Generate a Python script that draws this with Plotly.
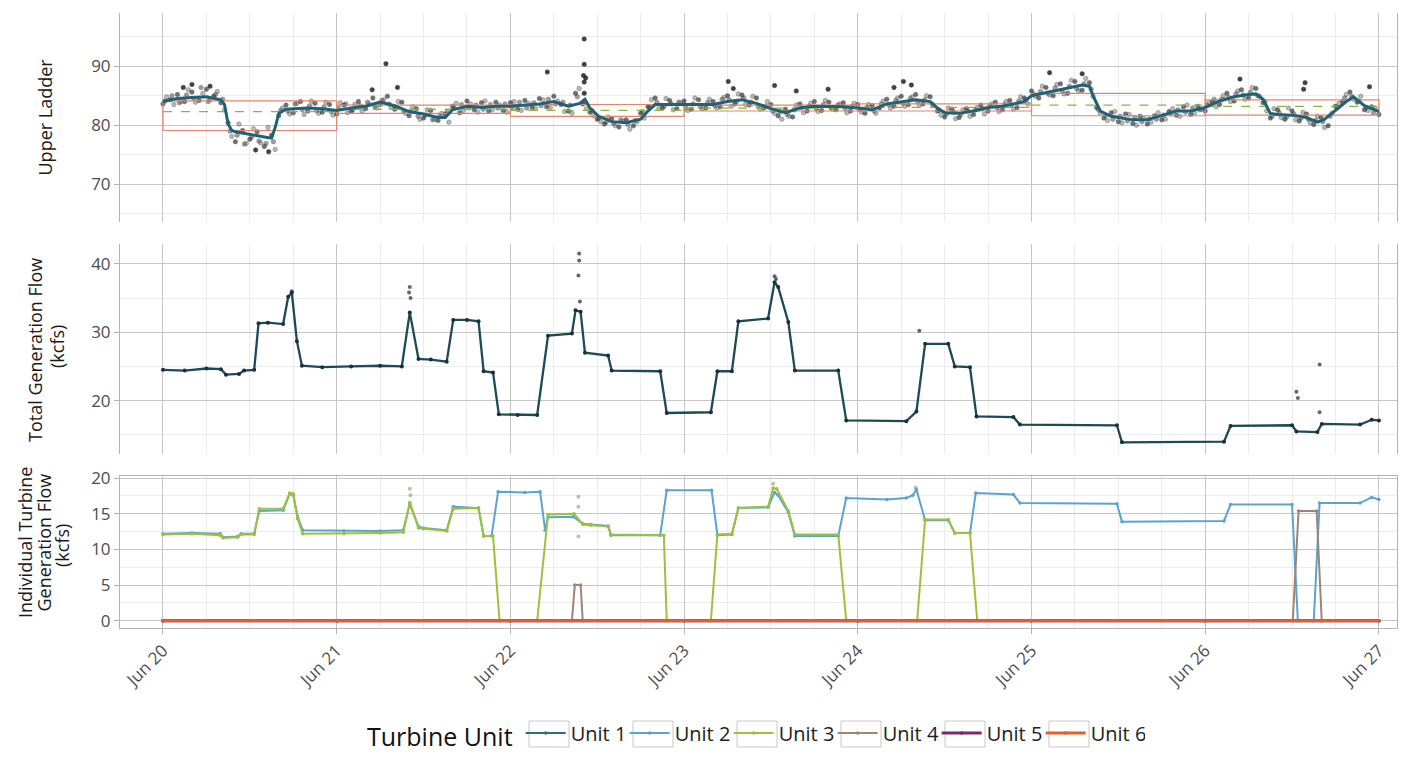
import plotly.graph_objects as go
import pandas as pd

BASE = pd.Timestamp("2023-06-20")

# ---------------- data (hours since Jun 20 00:00) ----------------
upper_line_h = [0, 2, 4, 6, 8, 8.5, 9, 9.5, 10, 12, 14, 15, 15.5, 16, 17, 18, 20, 22, 24, 26, 28, 30, 32, 34, 36, 38, 39, 40,
                42, 44, 46, 48, 50, 52, 54, 56, 57.6, 58.3, 59, 60.2, 62, 64, 66, 67, 68, 70, 72, 74, 76, 78, 80, 82, 84,
                86, 88, 90, 92, 94, 96, 98, 100, 102, 104, 106, 107, 108, 110, 112, 114, 116, 118, 119, 120, 122, 124,
                126, 127, 128, 128.5, 129.5, 131, 132, 134, 136, 138, 140, 142, 144, 146, 148, 150, 151, 152, 153, 154,
                156, 158, 159.5, 160.5, 162, 163.5, 164.5, 166, 168]
upper_line_v = [84.0, 84.5, 84.7, 84.8, 84.3, 83.5, 80.2, 79.1, 78.9, 78.4, 78.0, 77.8, 79.6, 82.0, 82.7, 82.8, 82.9, 82.8,
                82.5, 82.9, 83.2, 83.9, 83.3, 82.3, 81.9, 81.3, 81.3, 82.6, 83.2, 83.0, 83.2, 83.2, 83.4, 83.6, 84.0, 83.2,
                83.7, 84.4, 82.9, 81.5, 80.6, 80.4, 81.0, 82.4, 83.5, 83.5, 83.4, 83.4, 83.5, 84.0, 84.3, 83.7, 82.8, 82.1,
                82.9, 83.2, 83.2, 83.1, 82.9, 82.6, 83.6, 84.0, 84.3, 84.0, 82.9, 82.1, 82.0, 82.4, 83.0, 83.2, 83.7, 84.0,
                85.0, 85.5, 86.0, 86.5, 86.8, 86.6, 85.0, 82.4, 81.5, 81.3, 80.9, 80.9, 81.6, 82.4, 82.4, 83.0, 84.1, 84.8,
                85.2, 85.3, 84.4, 82.0, 81.8, 81.7, 81.3, 80.5, 81.0, 82.5, 84.0, 84.8, 83.3, 82.3]

# observed points: on the hour (a), at half past (b), at quarter past (c)
upper_obs_a = [83.6, 84.3, 85.2, 84.0, 85.6, 84.2, 86.1, 84.9, 83.8, 80.4, 77.2, 79.1, 77.6, 78.9, 76.4, 78.3, 81.6, 83.4,
               82.1, 84.0, 82.4, 83.7, 82.2, 83.5, 81.9, 83.4, 82.3, 84.0, 82.8, 84.6, 83.5, 84.9, 82.7, 83.9, 81.6, 82.8,
               81.2, 82.5, 80.8, 81.9, 83.2, 82.1, 84.1, 82.6, 83.8, 82.4, 83.9, 82.5, 83.8, 82.7, 84.2, 83.0, 84.5, 83.1,
               84.9, 83.5, 82.4, 85.4, 83.6, 82.2, 81.0, 80.2, 81.1, 79.7, 80.9, 79.9, 82.0, 83.1, 84.6, 82.9, 84.2, 82.8,
               84.1, 82.7, 84.3, 82.9, 84.0, 83.1, 85.0, 83.6, 85.1, 83.4, 84.6, 82.9, 83.5, 81.6, 82.7, 81.4, 83.6, 82.4,
               84.0, 82.5, 83.9, 82.6, 83.8, 82.4, 83.5, 82.0, 83.3, 82.9, 84.4, 83.2, 84.9, 83.5, 85.2, 83.6, 84.8, 82.4,
               81.4, 82.7, 81.3, 82.8, 81.8, 83.4, 82.4, 83.9, 82.6, 84.2, 83.0, 84.6, 85.8, 84.6, 86.4, 85.0, 87.0, 85.4,
               87.4, 85.9, 87.2, 83.0, 81.2, 82.1, 80.6, 81.9, 80.3, 81.5, 80.2, 81.6, 80.9, 82.3, 81.7, 83.1, 81.8, 83.2,
               82.4, 84.0, 83.5, 85.4, 84.1, 86.0, 84.6, 86.2, 83.8, 81.2, 82.6, 81.0, 82.4, 80.7, 81.9, 80.1, 81.3, 79.9,
               83.2, 84.0, 85.6, 83.9, 82.6, 83.1, 81.8]
upper_obs_b = [84.8, 83.5, 84.0, 86.0, 83.9, 85.4, 84.3, 85.7, 82.6, 78.1, 80.2, 76.9, 79.4, 77.0, 79.6, 75.9, 82.9, 81.9,
               83.7, 81.8, 84.1, 82.0, 83.9, 81.7, 83.8, 82.1, 83.5, 82.4, 83.6, 82.9, 84.3, 83.0, 84.0, 82.0, 83.1, 81.0,
               82.6, 81.0, 82.0, 80.5, 83.7, 82.5, 83.6, 82.2, 84.1, 82.6, 83.4, 82.2, 84.0, 82.5, 83.7, 82.8, 84.3, 83.0,
               84.1, 82.3, 82.0, 86.2, 82.8, 81.6, 80.6, 81.4, 79.9, 80.7, 79.3, 80.6, 81.2, 84.3, 82.8, 84.5, 82.6, 83.8,
               82.5, 84.6, 82.8, 84.4, 82.9, 84.7, 83.2, 85.3, 83.5, 84.9, 82.7, 84.0, 82.0, 81.0, 81.5, 83.4, 82.1, 83.7,
               82.3, 84.2, 82.7, 83.6, 82.1, 83.7, 82.2, 83.5, 82.0, 84.1, 82.9, 84.6, 83.2, 84.8, 83.4, 85.0, 83.3, 81.7,
               82.9, 81.1, 82.6, 81.5, 83.0, 81.9, 83.6, 82.3, 84.0, 82.7, 84.8, 83.6, 84.9, 86.6, 85.1, 86.9, 85.3, 87.6,
               85.8, 87.9, 84.9, 82.0, 80.8, 82.3, 80.4, 81.8, 80.0, 81.2, 80.5, 82.1, 81.0, 82.8, 81.5, 83.4, 82.0, 82.7,
               83.8, 83.1, 85.0, 84.0, 85.8, 84.4, 86.4, 84.9, 82.4, 82.8, 81.3, 82.9, 80.9, 82.2, 80.4, 81.5, 79.6, 82.0,
               83.7, 85.2, 84.4, 84.9, 82.5, 82.9]
upper_obs_c = [84.1, 85.0, 83.8, 85.1, 84.5, 86.4, 84.0, 85.2, 84.4, 79.0, 78.3, 76.8, 78.0, 77.3, 76.9, 77.2, 82.5, 82.4,
               83.6, 82.6, 83.3, 82.5, 83.1, 82.3, 82.9, 83.6, 82.6, 83.3, 83.9, 83.2, 84.2, 83.6, 82.9, 82.4, 82.3, 81.5,
               81.7, 80.9, 81.6, 82.2, 82.9, 83.5, 82.9, 83.4, 82.7, 83.5, 82.9, 83.6, 82.9, 83.9, 82.9, 83.8, 83.3, 84.4,
               83.6, 83.9, 83.4, 84.8, 83.9, 82.5, 81.2, 80.5, 80.3, 80.9, 80.1, 80.8, 82.3, 83.0, 83.9, 83.2, 83.6, 83.9,
               83.0, 83.6, 83.1, 83.8, 83.3, 84.4, 84.3, 84.0, 84.6, 83.9, 83.3, 83.2, 82.4, 82.3, 81.8, 82.6, 83.0, 83.2,
               82.8, 83.5, 83.0, 83.4, 82.8, 83.2, 82.7, 83.0, 82.4, 83.6, 83.5, 84.2, 83.7, 84.5, 84.0, 84.3, 83.6, 82.5,
               81.9, 82.2, 81.8, 82.4, 82.6, 82.8, 83.3, 83.0, 83.5, 83.4, 84.1, 84.3, 85.3, 85.7, 85.4, 86.3, 85.7, 86.6,
               86.2, 87.0, 86.1, 82.6, 81.7, 81.0, 81.5, 80.7, 81.3, 80.6, 81.1, 81.0, 81.7, 81.9, 82.6, 82.2, 82.9, 82.6,
               83.4, 84.4, 84.4, 84.7, 85.3, 85.1, 85.6, 85.0, 84.0, 81.5, 82.1, 81.4, 81.9, 81.2, 81.0, 80.8, 80.6, 81.5,
               83.0, 84.6, 84.9, 84.1, 83.0, 82.1]
upper_out_h = [30.8, 28.9, 32.4, 53.1, 58.2, 58.2, 58.1, 58.4, 58.2, 58.2, 78.1, 78.8, 84.5, 87.5, 91.9, 101.0, 102.3,
               103.4, 122.5, 127.0, 148.8, 157.8, 157.6, 166.7, 4.0, 6.5, 2.8, 12.8, 14.6]
upper_out_v = [90.4, 86.0, 86.4, 89.0, 94.6, 90.3, 88.4, 88.0, 87.3, 85.4, 87.4, 86.2, 86.7, 85.8, 86.1, 86.4, 87.4,
               86.8, 88.9, 88.7, 87.8, 87.2, 86.1, 86.5, 86.9, 86.6, 86.4, 75.8, 75.5]

band_days = ["2023-06-20", "2023-06-21", "2023-06-22", "2023-06-23", "2023-06-24", "2023-06-25", "2023-06-26"]
band_upper = [84.1, 83.4, 83.5, 83.4, 83.6, 85.4, 84.3]
band_lower = [79.1, 82.0, 81.5, 82.4, 82.4, 81.6, 81.7]
band_target = [82.3, 82.7, 82.5, 82.9, 83.0, 83.4, 83.2]

total_h = [0, 3, 6, 8, 8.7, 10.5, 11.2, 12.6, 13.2, 14.5, 16.6, 17.3, 17.8, 18.5, 19.2, 22, 26, 30, 33.0, 34.1, 35.3,
           37, 39.2, 40.1, 42, 43.6, 44.3, 45.6, 46.4, 49, 51.7, 53.2, 56.5, 57.0, 57.7, 58.3, 61.5, 62.0, 68.7, 69.6,
           75.7, 76.6, 78.6, 79.5, 83.6, 84.5, 85.0, 86.4, 87.3, 93.3, 94.4, 102.7, 104.1, 105.3, 108.5, 109.4, 111.5,
           112.4, 117.5, 118.4, 131.8, 132.5, 146.6, 147.5, 156.0, 156.6, 159.5, 160.1, 165.4, 167.0, 168.0]
total_v = [24.5, 24.4, 24.7, 24.6, 23.8, 23.9, 24.4, 24.5, 31.3, 31.4, 31.2, 35.2, 35.8, 28.7, 25.1, 24.9, 25.0, 25.1,
           25.0, 32.9, 26.1, 26.0, 25.7, 31.8, 31.8, 31.6, 24.3, 24.1, 18.0, 17.9, 17.9, 29.5, 29.8, 33.2, 33.0, 27.0,
           26.6, 24.4, 24.3, 18.2, 18.3, 24.3, 24.3, 31.6, 32.0, 37.3, 36.6, 31.5, 24.4, 24.4, 17.1, 17.0, 18.4, 28.3,
           28.3, 25.0, 24.9, 17.7, 17.6, 16.5, 16.4, 13.9, 14.0, 16.3, 16.4, 15.5, 15.4, 16.6, 16.5, 17.2, 17.1]
total_out_h = [34.1, 34.0, 34.2, 57.5, 57.5, 57.4, 57.6, 17.8, 84.5, 84.7, 104.5, 156.6, 156.8, 159.8, 159.8]
total_out_v = [36.6, 35.8, 35.0, 41.5, 40.5, 38.3, 34.5, 36.0, 38.2, 37.8, 30.2, 21.3, 20.4, 25.3, 18.3]

unit_names = ["Unit 1", "Unit 2", "Unit 3", "Unit 4", "Unit 5", "Unit 6"]
unit1_h = [0, 24, 48, 72, 96, 120, 144, 168]
unit1_v = [0, 0, 0, 0, 0, 0, 0, 0]
unit2_h = [0, 4, 7.9, 8.3, 10.3, 10.8, 12.6, 13.3, 16.6, 17.5, 18.0, 18.6, 19.3, 25, 30, 33.2, 34.1, 35.3, 36, 39.2,
           40.1, 43.6, 44.3, 45.4, 46.3, 50, 52.1, 52.8, 53.2, 56.7, 58.0, 59.1, 61.5, 61.9, 68.7, 69.6, 75.8, 76.6,
           78.6, 79.5, 83.6, 84.5, 85.0, 86.4, 87.3, 93.3, 94.4, 100, 102.7, 103.6, 104.1, 105.3, 108.5, 109.4, 111.5,
           112.3, 117.5, 118.4, 131.8, 132.5, 146.6, 147.5, 156.0, 156.8, 159.0, 159.8, 165.4, 167.0, 168]
unit2_v = [12.2, 12.3, 12.2, 11.7, 11.8, 12.2, 12.2, 15.4, 15.5, 17.8, 17.6, 14.6, 12.7, 12.6, 12.6, 12.7, 16.4, 13.2,
           13.0, 12.7, 16.0, 15.8, 11.9, 11.9, 18.1, 18.0, 18.1, 12.7, 14.5, 14.6, 13.6, 13.5, 13.3, 12.0, 12.0, 18.3,
           18.3, 12.0, 12.1, 15.8, 15.9, 18.0, 17.6, 15.2, 11.9, 11.9, 17.2, 17.0, 17.2, 17.6, 18.4, 14.1, 14.1, 12.3,
           12.3, 17.9, 17.7, 16.5, 16.4, 13.9, 14.0, 16.3, 16.3, 0, 0, 16.5, 16.5, 17.3, 17.0]
unit3_h = [0, 4, 7.9, 8.3, 10.3, 10.8, 12.6, 13.3, 16.6, 17.5, 18.0, 18.6, 19.3, 25, 30, 33.2, 34.1, 35.3, 36, 39.2,
           40.1, 43.6, 44.3, 45.6, 46.5, 51.7, 53.2, 56.8, 58.0, 59.1, 61.5, 61.9, 69.2, 69.6, 75.7, 76.6, 78.6, 79.5,
           83.6, 84.3, 84.8, 86.4, 87.3, 93.3, 94.4, 104.2, 105.3, 108.5, 109.4, 111.5, 112.5, 168]
unit3_v = [12.1, 12.2, 12.0, 11.6, 11.7, 12.1, 12.1, 15.7, 15.7, 17.9, 17.8, 14.3, 12.2, 12.2, 12.3, 12.4, 16.6, 13.0,
           12.9, 12.6, 15.7, 15.8, 11.9, 11.9, 0, 0, 14.9, 15.0, 13.5, 13.4, 13.2, 12.1, 12.0, 0, 0, 12.1, 12.2, 15.8,
           16.0, 18.6, 18.5, 15.4, 12.1, 12.1, 0, 0, 14.2, 14.2, 12.3, 12.3, 0, 0]
unit4_h = [0, 56.5, 56.9, 57.7, 58.0, 156.1, 156.9, 159.4, 160.1, 168]
unit4_v = [0, 0, 5.0, 5.0, 0, 0, 15.4, 15.4, 0, 0]
unit5_h = [0, 24, 48, 72, 96, 120, 144, 168]
unit5_v = [0, 0, 0, 0, 0, 0, 0, 0]
unit6_h = [0, 24, 48, 72, 96, 120, 144, 168]
unit6_v = [0, 0, 0, 0, 0, 0, 0, 0]
unit_pts_h = [34.1, 34.2, 57.4, 57.4, 57.4, 84.3, 104.0]
unit_pts_v = [18.5, 17.6, 17.4, 16.0, 11.8, 19.2, 18.7]

# ---------------- styling ----------------
UNIT_COLORS = ["#2f6f75", "#5ba3d0", "#9dc13c", "#9e8574", "#7a2b6d", "#dd6230"]
TOP_LINE = "#1d6275"
MID_LINE = "#1c4a57"
FONT = "Open Sans"
GRID = "#c6c6c6"
MINOR = "#ececec"
BORDER = "#b3b3b3"

# page is offset by the browser's 8px body margin: work in reference pixels minus 8
OFF = 8
W, H = 1406 - OFF, 757 - OFF


def px_x(x):
    return (x - OFF) / W


def px_y(y):
    return 1 - (y - OFF) / H


def dt(hours):
    return [BASE + pd.Timedelta(hours=float(h)) for h in hours]


fig = go.Figure()

# ---- top panel ----
obs_a_h = list(range(len(upper_obs_a)))
obs_b_h = [h + 0.5 for h in range(len(upper_obs_b))]
obs_c_h = [h + 0.25 for h in range(len(upper_obs_c))]
for hh, vv, col, op in [(obs_b_h, upper_obs_b, "#8a8a8a", 0.6), (obs_c_h, upper_obs_c, "#5c5c5c", 0.6),
                        (obs_a_h, upper_obs_a, "#363636", 0.7), (upper_out_h, upper_out_v, "#202020", 0.85)]:
    fig.add_trace(go.Scatter(x=dt(hh), y=vv, mode="markers", xaxis="x", yaxis="y3",
                             marker=dict(size=4.5, color=col, opacity=op, line=dict(width=0.5, color="#222222")),
                             showlegend=False, hoverinfo="skip"))

# criteria bands (rectangle outline per day) and target dashed line
bx, by, tx, ty = [], [], [], []
for d, up, lo, tg in zip(band_days, band_upper, band_lower, band_target):
    d0 = pd.Timestamp(d)
    d1 = d0 + pd.Timedelta(days=1)
    bx += [d0, d1, d1, d0, d0, None]
    by += [lo, lo, up, up, lo, None]
    tx += [d0, d1, None]
    ty += [tg, tg, None]
fig.add_trace(go.Scatter(x=bx, y=by, mode="lines", xaxis="x", yaxis="y3",
                         line=dict(color="#e8826a", width=1.2), showlegend=False, hoverinfo="skip"))
fig.add_trace(go.Scatter(x=tx, y=ty, mode="lines", xaxis="x", yaxis="y3",
                         line=dict(color="#8fb43a", width=1.3, dash="dash"), showlegend=False, hoverinfo="skip"))
fig.add_trace(go.Scatter(x=dt(upper_line_h), y=upper_line_v, mode="lines", xaxis="x", yaxis="y3",
                         line=dict(color=TOP_LINE, width=3), showlegend=False, hoverinfo="skip"))

# ---- middle panel ----
fig.add_trace(go.Scatter(x=dt(total_out_h), y=total_out_v, mode="markers", xaxis="x", yaxis="y2",
                         marker=dict(size=4, color="#333333", opacity=0.75), showlegend=False, hoverinfo="skip"))
fig.add_trace(go.Scatter(x=dt(total_h), y=total_v, mode="lines+markers", xaxis="x", yaxis="y2",
                         line=dict(color=MID_LINE, width=2.3), marker=dict(size=4, color="#1f2f35"),
                         showlegend=False, hoverinfo="skip"))

# ---- bottom panel ----
fig.add_trace(go.Scatter(x=dt(unit_pts_h), y=unit_pts_v, mode="markers", xaxis="x", yaxis="y",
                         marker=dict(size=4, color="#9aa88a", opacity=0.7), showlegend=False, hoverinfo="skip"))
unit_h = [unit1_h, unit2_h, unit3_h, unit4_h, unit5_h, unit6_h]
unit_v = [unit1_v, unit2_v, unit3_v, unit4_v, unit5_v, unit6_v]
unit_w = [2, 2, 2, 2, 3, 3]
for name, hh, vv, col, w in zip(unit_names, unit_h, unit_v, UNIT_COLORS, unit_w):
    fig.add_trace(go.Scatter(x=dt(hh), y=vv, mode="lines+markers", name=name, xaxis="x", yaxis="y",
                             line=dict(color=col, width=w), marker=dict(size=3.5, color=col)))

# ---------------- layout ----------------
x_left = BASE + pd.Timedelta(hours=-5.94)
x_right = BASE + pd.Timedelta(hours=170.5)

xcommon = dict(type="date", range=[x_left, x_right], domain=[px_x(120), px_x(1397)], tick0=BASE, dtick=86400000,
               showgrid=True, gridcolor=GRID, gridwidth=1, zeroline=False, showline=True, mirror=True,
               linecolor=BORDER, linewidth=1, automargin=False,
               minor=dict(dtick=21600000, tick0=BASE, showgrid=True, gridcolor=MINOR, gridwidth=1))
ycommon = dict(showgrid=True, gridcolor=GRID, gridwidth=1, zeroline=False, showline=True, mirror=True,
               linecolor=BORDER, linewidth=1, ticks="outside", ticklen=5, tickcolor=BORDER, automargin=False,
               tickfont=dict(family=FONT, size=17, color="#4d4d4d"))

fig.update_layout(
    width=W, height=H, margin=dict(l=0, r=0, t=0, b=0, autoexpand=False),
    paper_bgcolor="white", plot_bgcolor="white",
    font=dict(family=FONT, color="#1a1a1a"),
    xaxis=dict(xcommon, anchor="y", ticks="outside", ticklen=5, tickcolor=BORDER, tickformat="%b %d",
               tickangle=-45, tickfont=dict(family=FONT, size=17, color="#4d4d4d")),
    xaxis2=dict(xcommon, anchor="y2", matches="x", showticklabels=False),
    xaxis3=dict(xcommon, anchor="y3", matches="x", showticklabels=False),
    yaxis=dict(ycommon, domain=[px_y(628), px_y(476)], range=[-1.02, 20.3], tick0=0, dtick=5,
               minor=dict(dtick=2.5, showgrid=True, gridcolor=MINOR)),
    yaxis2=dict(ycommon, domain=[px_y(454), px_y(244)], range=[12.2, 42.9], tick0=0, dtick=10,
                minor=dict(dtick=5, showgrid=True, gridcolor=MINOR)),
    yaxis3=dict(ycommon, domain=[px_y(222), px_y(13)], range=[63.6, 99.0], tick0=0, dtick=10,
                minor=dict(dtick=5, showgrid=True, gridcolor=MINOR)),
    legend=dict(orientation="h", x=px_x(365), xanchor="left", y=px_y(735), yanchor="middle",
                title=dict(text="Turbine Unit", font=dict(family=FONT, size=25, color="#111111")),
                font=dict(family=FONT, size=20, color="#222222"), itemwidth=40, entrywidth=49,
                bgcolor="rgba(0,0,0,0)"),
)

# ggplot-style boxes around legend keys (reference pixel positions)
key_box_left = [529, 633, 737, 841, 945, 1049]
for xl in key_box_left:
    fig.add_shape(type="rect", xref="paper", yref="paper", x0=px_x(xl), x1=px_x(xl + 40),
                  y0=px_y(747), y1=px_y(721), line=dict(color="#c8c8c8", width=1), fillcolor="rgba(0,0,0,0)",
                  layer="below")

titles = [
    ("Upper Ladder", 45, 117.5),
    ("Total Generation Flow", 35, 350),
    ("(kcfs)", 57, 347),
    ("Individual Turbine", 25, 543),
    ("Generation Flow", 43.5, 543),
    ("(kcfs)", 62, 546),
]
for text, xp, ypx in titles:
    fig.add_annotation(text=text, x=px_x(xp), y=px_y(ypx), xref="paper", yref="paper", showarrow=False,
                       textangle=-90, xanchor="center", yanchor="middle",
                       font=dict(family=FONT, size=18, color="#1a1a1a"))

fig.write_html("out.html")
